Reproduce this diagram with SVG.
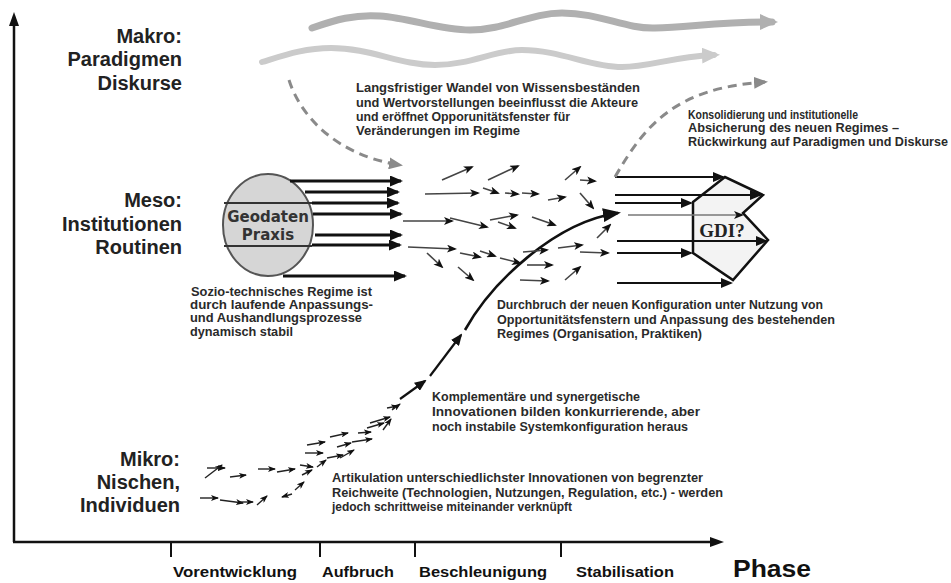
<svg xmlns="http://www.w3.org/2000/svg" width="951" height="583" viewBox="0 0 951 583">
<style>
.lvl{font-family:"Liberation Sans",Arial,sans-serif;font-weight:bold;font-size:20px;fill:#222;text-anchor:end}
.ann{font-family:"Liberation Sans",Arial,sans-serif;font-weight:bold;font-size:12px;fill:#2a2a2a}
.ph{font-family:"Liberation Sans",Arial,sans-serif;font-weight:bold;font-size:14px;fill:#111}
.ax{stroke:#111;stroke-width:2.5;fill:none}
.tk{stroke:#111;stroke-width:2;fill:none}
.thick{stroke:#111;stroke-width:3;fill:none;marker-end:url(#ah)}
.gdi{stroke:#111;stroke-width:2.2;fill:none;marker-end:url(#ah2)}
.sa{stroke:#444;stroke-width:1.6;fill:none;marker-end:url(#sm)}
.na{stroke:#222;stroke-width:1.4;fill:none;marker-end:url(#nm)}
.dash{stroke:#8a8a8a;stroke-width:3;fill:none;stroke-dasharray:9 6;marker-end:url(#gah)}
</style>
<defs>
<marker id="ah" viewBox="0 0 13 11" refX="11" refY="5.5" markerWidth="13" markerHeight="11" orient="auto" markerUnits="userSpaceOnUse"><path d="M0,0 L13,5.5 L0,11 z" fill="#111"/></marker>
<marker id="ah2" viewBox="0 0 12 10" refX="10" refY="5" markerWidth="12" markerHeight="10" orient="auto" markerUnits="userSpaceOnUse"><path d="M0,0 L12,5 L0,10 z" fill="#111"/></marker>
<marker id="sm" viewBox="0 0 10 8" refX="8" refY="4" markerWidth="10" markerHeight="8" orient="auto" markerUnits="userSpaceOnUse"><path d="M0,0 L10,4 L0,8 L2.5,4 z" fill="#111"/></marker>
<marker id="nm" viewBox="0 0 8 6" refX="7" refY="3" markerWidth="8" markerHeight="6" orient="auto" markerUnits="userSpaceOnUse"><path d="M0,0 L8,3 L0,6 L2,3 z" fill="#111"/></marker>
<marker id="big" viewBox="0 0 18 14" refX="15" refY="7" markerWidth="18" markerHeight="14" orient="auto" markerUnits="userSpaceOnUse"><path d="M0,0 L18,7 L0,14 z" fill="#111"/></marker>
<marker id="gah" viewBox="0 0 14 12" refX="11" refY="6" markerWidth="14" markerHeight="12" orient="auto" markerUnits="userSpaceOnUse"><path d="M0,0 L14,6 L0,12 z" fill="#8a8a8a"/></marker>
<marker id="w1" viewBox="0 0 18 16" refX="12" refY="8" markerWidth="18" markerHeight="16" orient="auto" markerUnits="userSpaceOnUse"><path d="M0,0 L18,8 L0,16 z" fill="#b0b0b0"/></marker>
<marker id="w2" viewBox="0 0 18 16" refX="12" refY="8" markerWidth="18" markerHeight="16" orient="auto" markerUnits="userSpaceOnUse"><path d="M0,0 L18,8 L0,16 z" fill="#cbcbcb"/></marker>
</defs>
<rect width="951" height="583" fill="#fff"/>

<g id="axes">
<path class="ax" d="M14 542 L14 24"/>
<path d="M14 12 L9 26 L19 26 z" fill="#111"/>
<path class="ax" d="M13 542 L712 542"/>
<path d="M724 542 L710 537 L710 547 z" fill="#111"/>
<path class="tk" d="M171 542 V557 M320 542 V557 M415 542 V557 M561 542 V557"/>
<text class="ph" x="173" y="577" textLength="124" lengthAdjust="spacingAndGlyphs">Vorentwicklung</text>
<text class="ph" x="322" y="577" textLength="72" lengthAdjust="spacingAndGlyphs">Aufbruch</text>
<text class="ph" x="419" y="577" textLength="128" lengthAdjust="spacingAndGlyphs">Beschleunigung</text>
<text class="ph" x="576" y="577" textLength="98" lengthAdjust="spacingAndGlyphs">Stabilisation</text>
<text x="733" y="577" font-family="Liberation Sans, Arial, sans-serif" font-weight="bold" font-size="23" fill="#111" textLength="78" lengthAdjust="spacingAndGlyphs">Phase</text>
</g>

<g id="levels">
<text class="lvl" x="182" y="43">Makro:</text>
<text class="lvl" x="182" y="66">Paradigmen</text>
<text class="lvl" x="182" y="90">Diskurse</text>
<text class="lvl" x="182" y="207">Meso:</text>
<text class="lvl" x="182" y="231">Institutionen</text>
<text class="lvl" x="182" y="254">Routinen</text>
<text class="lvl" x="180" y="466">Mikro:</text>
<text class="lvl" x="180" y="489">Nischen,</text>
<text class="lvl" x="180" y="512">Individuen</text>
</g>

<g id="waves">
<path d="M312 28 C335 20 355 14 380 16 C410 18 440 30 470 30 C505 30 530 13 562 13 C600 13 625 29 655 28 C690 27 720 22 772 22" stroke="#b0b0b0" stroke-width="7" fill="none" stroke-linecap="round" marker-end="url(#w1)"/>
<path d="M262 62 C285 55 305 48 331 48 C370 48 400 65 435 65 C470 65 495 50 522 50 C560 50 590 67 622 67 C650 67 670 57 714 55" stroke="#cbcbcb" stroke-width="6" fill="none" stroke-linecap="round" marker-end="url(#w2)"/>
</g>

<g id="regime">
<ellipse cx="268" cy="225" rx="45" ry="51" fill="#d6d6d6" stroke="#555" stroke-width="2"/>
<line x1="224" y1="203" x2="312" y2="203" stroke="#333" stroke-width="2"/>
<line x1="224" y1="246" x2="312" y2="246" stroke="#333" stroke-width="2"/>
<text x="268" y="222" font-family="DejaVu Sans, Verdana, sans-serif" font-weight="bold" font-size="15" fill="#333" text-anchor="middle">Geodaten</text>
<text x="268" y="240" font-family="DejaVu Sans, Verdana, sans-serif" font-weight="bold" font-size="15" fill="#333" text-anchor="middle">Praxis</text>
</g>

<g id="gdi">
<path d="M693 202 L725 177 L763 195 L743 213 L768 240 L733 280 L693 253 z" fill="#f3f3f3" stroke="#111" stroke-width="2.5" stroke-linejoin="miter"/>
<text x="722" y="237" font-family="Liberation Serif, Times New Roman, serif" font-weight="bold" font-size="19" fill="#222" text-anchor="middle">GDI?</text>
</g>

<g id="connectors">
<path class="thick" d="M290 181 H401"/>
<path class="thick" d="M305 192 H398"/>
<path class="thick" d="M312 203 H398"/>
<path class="thick" d="M313 214 H401"/>
<path class="thick" d="M315 235 H401"/>
<path class="thick" d="M312 245 H400"/>
<path class="thick" d="M283 276 H405"/>
<path class="gdi" d="M615 177 H723"/>
<path class="gdi" d="M615 195 H760"/>
<path class="gdi" d="M615 203 H691"/>
<path d="M628 215 H742" stroke="#777" stroke-width="1.5" fill="none" marker-end="url(#sm)"/>
<path class="gdi" d="M617 241 H766"/>
<path class="gdi" d="M617 253 H691"/>
<path class="gdi" d="M617 283 H731"/>
<path class="dash" d="M289 80 C300 115 335 155 400 165"/>
<path class="dash" d="M615 177 C645 125 675 88 765 82"/>
<path d="M400 399 L425 381" stroke="#111" stroke-width="2.2" fill="none" marker-end="url(#ah2)"/>
<path d="M430 376 L461 335" stroke="#111" stroke-width="2.2" fill="none" marker-end="url(#ah2)"/>
<path d="M465 330 C492 282 555 222 618 213" stroke="#111" stroke-width="2.6" fill="none" marker-end="url(#big)"/>
<line class="sa" x1="442" y1="180" x2="472" y2="167"/>
<line class="sa" x1="488" y1="180" x2="518" y2="166"/>
<line class="sa" x1="425" y1="194" x2="478" y2="193"/>
<line class="sa" x1="483" y1="188" x2="498" y2="193"/>
<line class="sa" x1="505" y1="193" x2="518" y2="194"/>
<line class="sa" x1="522" y1="193" x2="538" y2="194"/>
<line class="sa" x1="548" y1="200" x2="565" y2="197"/>
<line class="sa" x1="565" y1="180" x2="580" y2="167"/>
<line class="sa" x1="580" y1="180" x2="595" y2="181"/>
<line class="sa" x1="580" y1="193" x2="593" y2="208"/>
<line class="sa" x1="403" y1="221" x2="452" y2="221"/>
<line class="sa" x1="450" y1="218" x2="487" y2="227"/>
<line class="sa" x1="490" y1="220" x2="517" y2="215"/>
<line class="sa" x1="498" y1="222" x2="515" y2="228"/>
<line class="sa" x1="532" y1="217" x2="555" y2="225"/>
<line class="sa" x1="408" y1="247" x2="455" y2="249"/>
<line class="sa" x1="427" y1="253" x2="442" y2="267"/>
<line class="sa" x1="460" y1="253" x2="480" y2="257"/>
<line class="sa" x1="480" y1="251" x2="495" y2="256"/>
<line class="sa" x1="500" y1="258" x2="520" y2="263"/>
<line class="sa" x1="523" y1="252" x2="547" y2="250"/>
<line class="sa" x1="527" y1="265" x2="552" y2="265"/>
<line class="sa" x1="458" y1="267" x2="473" y2="280"/>
<line class="sa" x1="520" y1="280" x2="548" y2="281"/>
<line class="sa" x1="558" y1="248" x2="582" y2="245"/>
<line class="sa" x1="565" y1="280" x2="580" y2="267"/>
<line class="sa" x1="580" y1="252" x2="608" y2="253"/>
<line class="sa" x1="597" y1="238" x2="610" y2="225"/>
<line class="na" x1="200" y1="498" x2="218" y2="498"/>
<line class="na" x1="220" y1="500" x2="243" y2="503"/>
<line class="na" x1="240" y1="502" x2="253" y2="502"/>
<line class="na" x1="257" y1="505" x2="267" y2="496"/>
<line class="na" x1="292" y1="494" x2="282" y2="497"/>
<line class="na" x1="295" y1="490" x2="304" y2="482"/>
<line class="na" x1="205" y1="478" x2="222" y2="465"/>
<line class="na" x1="207" y1="468" x2="225" y2="468"/>
<line class="na" x1="230" y1="477" x2="246" y2="475"/>
<line class="na" x1="258" y1="469" x2="275" y2="469"/>
<line class="na" x1="277" y1="472" x2="295" y2="469"/>
<line class="na" x1="300" y1="465" x2="313" y2="467"/>
<line class="na" x1="302" y1="475" x2="312" y2="470"/>
<line class="na" x1="317" y1="467" x2="326" y2="460"/>
<line class="na" x1="327" y1="458" x2="343" y2="455"/>
<line class="na" x1="340" y1="458" x2="354" y2="450"/>
<line class="na" x1="305" y1="453" x2="323" y2="453"/>
<line class="na" x1="307" y1="445" x2="325" y2="442"/>
<line class="na" x1="330" y1="437" x2="348" y2="433"/>
<line class="na" x1="337" y1="447" x2="351" y2="443"/>
<line class="na" x1="352" y1="442" x2="372" y2="439"/>
<line class="na" x1="358" y1="433" x2="371" y2="432"/>
<line class="na" x1="367" y1="428" x2="384" y2="423"/>
<line class="na" x1="370" y1="423" x2="390" y2="417"/>
<line class="na" x1="383" y1="430" x2="391" y2="419"/>
<line class="na" x1="387" y1="408" x2="398" y2="406"/>
<line class="na" x1="392" y1="410" x2="400" y2="404"/>
</g>

<g id="annotations">
<text class="ann" x="356" y="92" textLength="284" lengthAdjust="spacingAndGlyphs">Langsfristiger Wandel von Wissensbeständen</text>
<text class="ann" x="356" y="107" textLength="282" lengthAdjust="spacingAndGlyphs">und Wertvorstellungen beeinflusst die Akteure</text>
<text class="ann" x="356" y="121" textLength="214" lengthAdjust="spacingAndGlyphs">und eröffnet Opporunitätsfenster für</text>
<text class="ann" x="356" y="135" textLength="164" lengthAdjust="spacingAndGlyphs">Veränderungen im Regime</text>

<text class="ann" x="688" y="119" textLength="170" lengthAdjust="spacingAndGlyphs">Konsolidierung und institutionelle</text>
<text class="ann" x="688" y="132" textLength="211" lengthAdjust="spacingAndGlyphs">Absicherung des neuen Regimes –</text>
<text class="ann" x="688" y="146" textLength="260" lengthAdjust="spacingAndGlyphs">Rückwirkung auf Paradigmen und Diskurse</text>

<text class="ann" x="191" y="296" textLength="181" lengthAdjust="spacingAndGlyphs">Sozio-technisches Regime ist</text>
<text class="ann" x="190" y="309" textLength="183" lengthAdjust="spacingAndGlyphs">durch laufende Anpassungs-</text>
<text class="ann" x="190" y="322" textLength="172" lengthAdjust="spacingAndGlyphs">und Aushandlungsprozesse</text>
<text class="ann" x="190" y="336" textLength="103" lengthAdjust="spacingAndGlyphs">dynamisch stabil</text>

<text class="ann" x="497" y="309" textLength="326" lengthAdjust="spacingAndGlyphs">Durchbruch der neuen Konfiguration unter Nutzung von</text>
<text class="ann" x="497" y="324" textLength="338" lengthAdjust="spacingAndGlyphs">Opportunitätsfenstern und Anpassung des bestehenden</text>
<text class="ann" x="497" y="338" textLength="205" lengthAdjust="spacingAndGlyphs">Regimes (Organisation, Praktiken)</text>

<text class="ann" x="432" y="401" textLength="208" lengthAdjust="spacingAndGlyphs">Komplementäre und synergetische</text>
<text class="ann" x="432" y="416" textLength="268" lengthAdjust="spacingAndGlyphs">Innovationen bilden konkurrierende, aber</text>
<text class="ann" x="432" y="431" textLength="256" lengthAdjust="spacingAndGlyphs">noch instabile  Systemkonfiguration heraus</text>

<text class="ann" x="332" y="482" textLength="371" lengthAdjust="spacingAndGlyphs">Artikulation unterschiedlichster Innovationen von begrenzter</text>
<text class="ann" x="332" y="497" textLength="391" lengthAdjust="spacingAndGlyphs">Reichweite (Technologien, Nutzungen, Regulation, etc.) - werden</text>
<text class="ann" x="332" y="511" textLength="240" lengthAdjust="spacingAndGlyphs">jedoch schrittweise miteinander verknüpft</text>
</g>
</svg>
